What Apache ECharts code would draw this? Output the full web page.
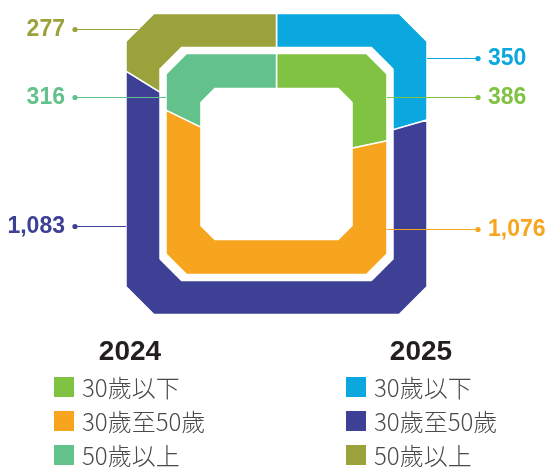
<!DOCTYPE html>
<html>
<head>
<meta charset="utf-8">
<script src="https://cdn.jsdelivr.net/npm/echarts@6/dist/echarts.min.js"></script>
<style>
  html, body { margin: 0; padding: 0; background: #fff; }
  #chart { width: 551px; height: 467px; }
</style>
</head>
<body>
<div id="chart"></div>
<script>
  // 資料
  const categories = ['30歲以下', '30歲至50歲', '50歲以上'];
  const years = ['2024', '2025'];
  const values2024 = [386, 1076, 316];
  const values2025 = [350, 1083, 277];

  const colors2024 = ['#80C242', '#F7A51E', '#63C28B'];
  const colors2025 = ['#0AA8DF', '#3E4095', '#9CA23B'];

  // 八角形環, 以外環半寬為單位
  const CHAMFER = 0.185;
  const ring2025 = [0.774, 1];
  const ring2024 = [0.502, 0.734];
  // 標籤引線: 距中心高度 / 左右
  const labels2025 = [{ rise: 0.704, side: 1 }, { rise: -0.412, side: -1 }, { rise: 0.897, side: -1 }];
  const labels2024 = [{ rise: 0.445, side: 1 }, { rise: -0.432, side: 1 }, { rise: 0.445, side: -1 }];
  const DOT = 1.339;
  const numFont = 'bold 23px "Liberation Sans", Arial, sans-serif';

  const sum = arr => arr.reduce((a, b) => a + b, 0);

  function cumulate(vals) {
    let s = 0;
    return vals.map((v, i) => {
      const item = { value: [s, s + v, v], name: categories[i] };
      s += v;
      return item;
    });
  }

  function octScale(dx, dy) {
    const ax = Math.abs(dx), ay = Math.abs(dy);
    return Math.min(ax > 1e-9 ? 1 / ax : Infinity, ay > 1e-9 ? 1 / ay : Infinity, (2 - CHAMFER) / (ax + ay));
  }

  function makeRender(ring, colors, labels, total) {
    return function (params, api) {
      const a0 = api.value(0), a1 = api.value(1), v = api.value(2);
      const c = api.coord([0, 0]);
      const top = api.coord([1, 0]);
      const R = Math.hypot(top[0] - c[0], top[1] - c[1]);
      const color = colors[params.dataIndex];
      const lab = labels[params.dataIndex];

      function pt(a, r) {
        const p = api.coord([1, a]);
        const dx = (p[0] - c[0]) / R, dy = (p[1] - c[1]) / R;
        const s = octScale(dx, dy) * r * R;
        return [c[0] + dx * s, c[1] + dy * s];
      }

      const n = Math.max(2, Math.ceil((a1 - a0) / total * 1440));
      const points = [];
      for (let i = 0; i <= n; i++) points.push(pt(a0 + (a1 - a0) * i / n, ring[1]));
      for (let i = n; i >= 0; i--) points.push(pt(a0 + (a1 - a0) * i / n, ring[0]));

      // 引線
      const ly = Math.round(c[1] - lab.rise * R) + 0.5;
      const ro = ring[1];
      const xe = Math.min(ro, (2 - CHAMFER) * ro - Math.abs(lab.rise)) * R;
      const x1 = c[0] + lab.side * xe;
      const x2 = c[0] + lab.side * DOT * R;

      return {
        type: 'group',
        children: [
          { type: 'polygon', shape: { points: points }, style: { fill: color, stroke: '#fff', lineWidth: 1.5 } },
          { type: 'line', z2: 10, shape: { x1: x1, y1: ly, x2: x2, y2: ly }, style: { stroke: color, lineWidth: 1 } },
          { type: 'circle', z2: 10, shape: { cx: x2, cy: ly, r: 2.6 }, style: { fill: color } },
          {
            type: 'text', z2: 10,
            style: {
              text: v.toLocaleString('en-US'),
              x: x2 + lab.side * 10, y: ly,
              fill: color, font: numFont,
              align: lab.side > 0 ? 'left' : 'right', verticalAlign: 'middle'
            }
          }
        ]
      };
    };
  }

  const total2024 = sum(values2024);
  const total2025 = sum(values2025);

  function polarAxes(total, idx) {
    return {
      angle: { polarIndex: idx, type: 'value', min: 0, max: total, startAngle: 90, clockwise: true, show: false },
      radius: { polarIndex: idx, type: 'value', min: 0, max: 1, show: false }
    };
  }
  const ax0 = polarAxes(total2025, 0);
  const ax1 = polarAxes(total2024, 1);

  // 圖例
  const legendGraphic = [];
  const legendCols = [
    { year: years[0], colors: colors2024, titleX: 130, boxX: 54 },
    { year: years[1], colors: colors2025, titleX: 421, boxX: 346 }
  ];
  legendCols.forEach(col => {
    legendGraphic.push({
      type: 'text', x: col.titleX, y: 352,
      style: { text: col.year, font: 'bold 28px "Liberation Sans", Arial, sans-serif', fill: '#231F20', align: 'center', verticalAlign: 'middle' }
    });
    categories.forEach((name, i) => {
      legendGraphic.push({
        type: 'rect', shape: { x: col.boxX, y: 377 + i * 34, width: 20, height: 20 },
        style: { fill: col.colors[i] }
      });
      legendGraphic.push({
        type: 'text', x: col.boxX + 28, y: 388 + i * 34,
        style: { text: name, font: '300 24px "Noto Sans CJK TC", sans-serif', fill: '#4A4A4A', align: 'left', verticalAlign: 'middle' }
      });
    });
  });

  const chart = echarts.init(document.getElementById('chart'));
  chart.setOption({
    backgroundColor: '#fff',
    animation: false,
    polar: [
      { center: [276.5, 164], radius: 150.5 },
      { center: [276.5, 164], radius: 150.5 }
    ],
    angleAxis: [ax0.angle, ax1.angle],
    radiusAxis: [ax0.radius, ax1.radius],
    series: [
      {
        name: years[1], type: 'custom', coordinateSystem: 'polar', polarIndex: 0,
        renderItem: makeRender(ring2025, colors2025, labels2025, total2025),
        data: cumulate(values2025)
      },
      {
        name: years[0], type: 'custom', coordinateSystem: 'polar', polarIndex: 1,
        renderItem: makeRender(ring2024, colors2024, labels2024, total2024),
        data: cumulate(values2024)
      }
    ],
    graphic: legendGraphic
  });
</script>
</body>
</html>
